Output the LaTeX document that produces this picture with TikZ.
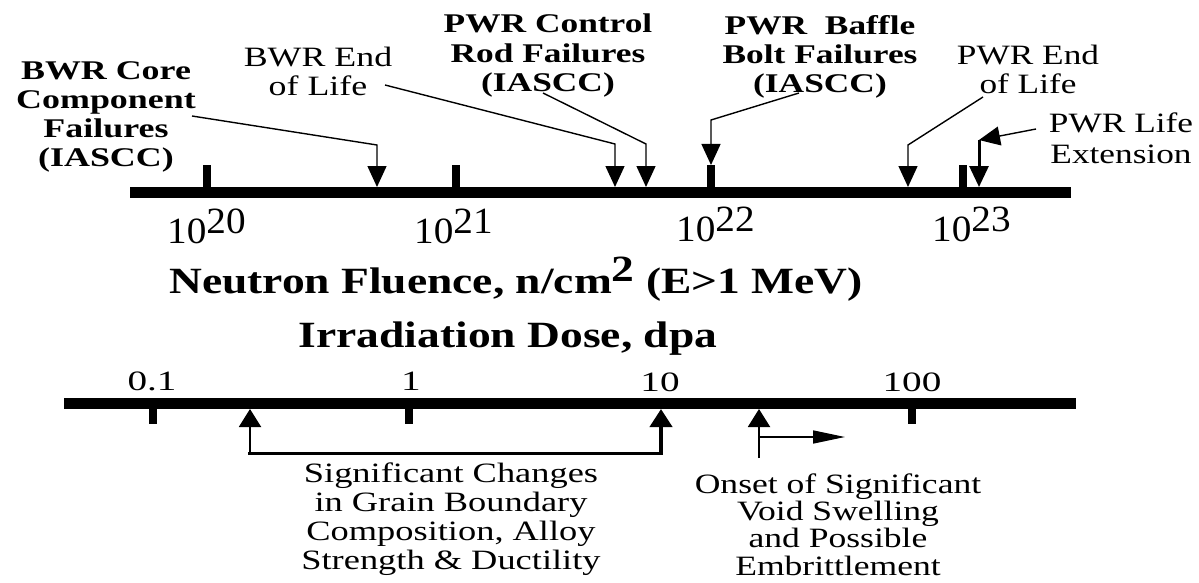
\documentclass[tikz,border=0pt]{standalone}
\usepackage{fontspec}
\setmainfont{Liberation Serif}
\usepackage{graphicx}
\usetikzlibrary{arrows.meta}
\newcommand\sx[2]{\scalebox{#1}[1]{#2}}
\newcommand\lines[1]{\begin{tabular}[t]{@{}c@{}}#1\end{tabular}}
\begin{document}
\begin{tikzpicture}[x=1pt,y=-1pt,
  small/.style={inner sep=0pt,anchor=base,font=\fontsize{28}{#1}\selectfont},
  small/.default=29,
  smallb/.style={inner sep=0pt,anchor=base,font=\fontsize{27}{#1}\selectfont\bfseries},
  smallb/.default=29,
  titletext/.style={inner sep=0pt,anchor=base,font=\fontsize{37}{44}\selectfont\bfseries},
  expo/.style={inner sep=0pt,anchor=base west,font=\fontsize{37}{40}\selectfont},
  dpanum/.style={inner sep=0pt,anchor=base,font=\fontsize{28}{30}\selectfont},
  axline/.style={line width=11pt},
  axtick/.style={line width=8pt},
  leader/.style={line width=1.4pt},
  tipdown/.style={-{Triangle[width=19pt,length=21pt]}},
  tipup/.style={-{Triangle[width=22pt,length=18pt]}},
]
\path[use as bounding box,fill=white] (0,0) rectangle (1199,583);

% ---------- top axis ----------
\coordinate (t0) at (130,192.5);
\coordinate (t1) at (1071,192.5);
\draw[axline] (t0) -- (t1);
\foreach \x in {207,456,711,963}{\draw[axtick] (\x,165) -- (\x,188);}

\node[expo] (e20) at (167,243) {\sx{1.06}{10\raisebox{10pt}{20}}};
\node[expo] (e21) at (414,243) {\sx{1.06}{10\raisebox{10pt}{21}}};
\node[expo] (e22) at (676,241) {\sx{1.06}{10\raisebox{10pt}{22}}};
\node[expo] (e23) at (932,241) {\sx{1.06}{10\raisebox{10pt}{23}}};

\node[titletext] (fluence) at (516,293) {\sx{1.23}{Neutron Fluence, n/cm\raisebox{12pt}{2} (E>1 MeV)}};
\node[titletext] (dose) at (508,347) {\sx{1.23}{Irradiation Dose, dpa}};

% ---------- top labels ----------
\node[smallb=29] (bwrcore) at (106,80) {\sx{1.33}{\lines{BWR Core\\Component\\Failures\\(IASCC)}}};
\node[small=28] (bwrend) at (318,67) {\sx{1.28}{\lines{BWR End\\of Life}}};
\node[smallb=29.5] (pwrrod) at (548,33) {\sx{1.31}{\lines{PWR Control\\Rod Failures\\(IASCC)}}};
\node[smallb=29] (pwrbaffle) at (820,35) {\sx{1.31}{\lines{PWR~~Baffle\\Bolt Failures\\(IASCC)}}};
\node[small=28] (pwrend) at (1028,65) {\sx{1.26}{\lines{PWR End\\of Life}}};
\node[small=30] (pwrext) at (1121,133) {\sx{1.26}{\lines{PWR Life\\Extension}}};

% ---------- top leaders ----------
\coordinate (a0) at (192,116); \coordinate (a1) at (377,145); \coordinate (a2) at (377,187);
\draw[leader,tipdown] (a0) -- (a1) -- (a2);
\coordinate (b0) at (385,85); \coordinate (b1) at (615,144); \coordinate (b2) at (615,187);
\draw[leader,tipdown] (b0) -- (b1) -- (b2);
\coordinate (c0) at (543,93); \coordinate (c1) at (646,144); \coordinate (c2) at (646,187);
\draw[leader,tipdown] (c0) -- (c1) -- (c2);
\coordinate (d0) at (799,93); \coordinate (d1) at (711,120); \coordinate (d2) at (711,165);
\draw[leader,tipdown] (d0) -- (d1) -- (d2);
\coordinate (f0) at (983,97); \coordinate (f1) at (908,145); \coordinate (f2) at (908,187);
\draw[leader,tipdown] (f0) -- (f1) -- (f2);
\coordinate (g0) at (1036,129); \coordinate (g1) at (979,140); \coordinate (g2) at (979,187);
\draw[leader,tipdown] (g0) -- (g1);
\draw[line width=3pt,tipdown] (g1) -- (g2);

% ---------- bottom axis ----------
\coordinate (l0) at (64,403.5);
\coordinate (l1) at (1076,403.5);
\draw[axline] (l0) -- (l1);
\foreach \x in {153,409,912}{\draw[axtick] (\x,408) -- (\x,424);}
\node[dpanum] (n01) at (152,390) {\sx{1.4}{0.1}};
\node[dpanum] (n1) at (411,390) {\sx{1.4}{1}};
\node[dpanum] (n10) at (660,391) {\sx{1.4}{10}};
\node[dpanum] (n100) at (912,391) {\sx{1.4}{100}};

% ---------- bottom arrows ----------
\coordinate (p0) at (250,453); \coordinate (p1) at (250,409);
\coordinate (q0) at (661,453); \coordinate (q1) at (661,409);
\draw[line width=2pt,tipup] (p0) -- (p1);
\draw[line width=4pt,tipup] (q0) -- (q1);
\draw[line width=3pt] (248,453) -- (663,453);
\coordinate (r0) at (759,458); \coordinate (r1) at (759,409);
\draw[line width=2pt,tipup] (r0) -- (r1);
\coordinate (s0) at (760,437); \coordinate (s1) at (845,437);
\draw[line width=1.6pt,-{Triangle[width=13pt,length=32pt]}] (s0) -- (s1);

\node[small=29] (grain) at (451,482) {\sx{1.3}{\lines{Significant Changes\\in Grain Boundary\\Composition, Alloy\\Strength \& Ductility}}};
\node[small=26.5] (onset) at (838,493) {\sx{1.27}{\lines{Onset of Significant\\Void Swelling\\and Possible\\Embrittlement}}};
\end{tikzpicture}
\end{document}
